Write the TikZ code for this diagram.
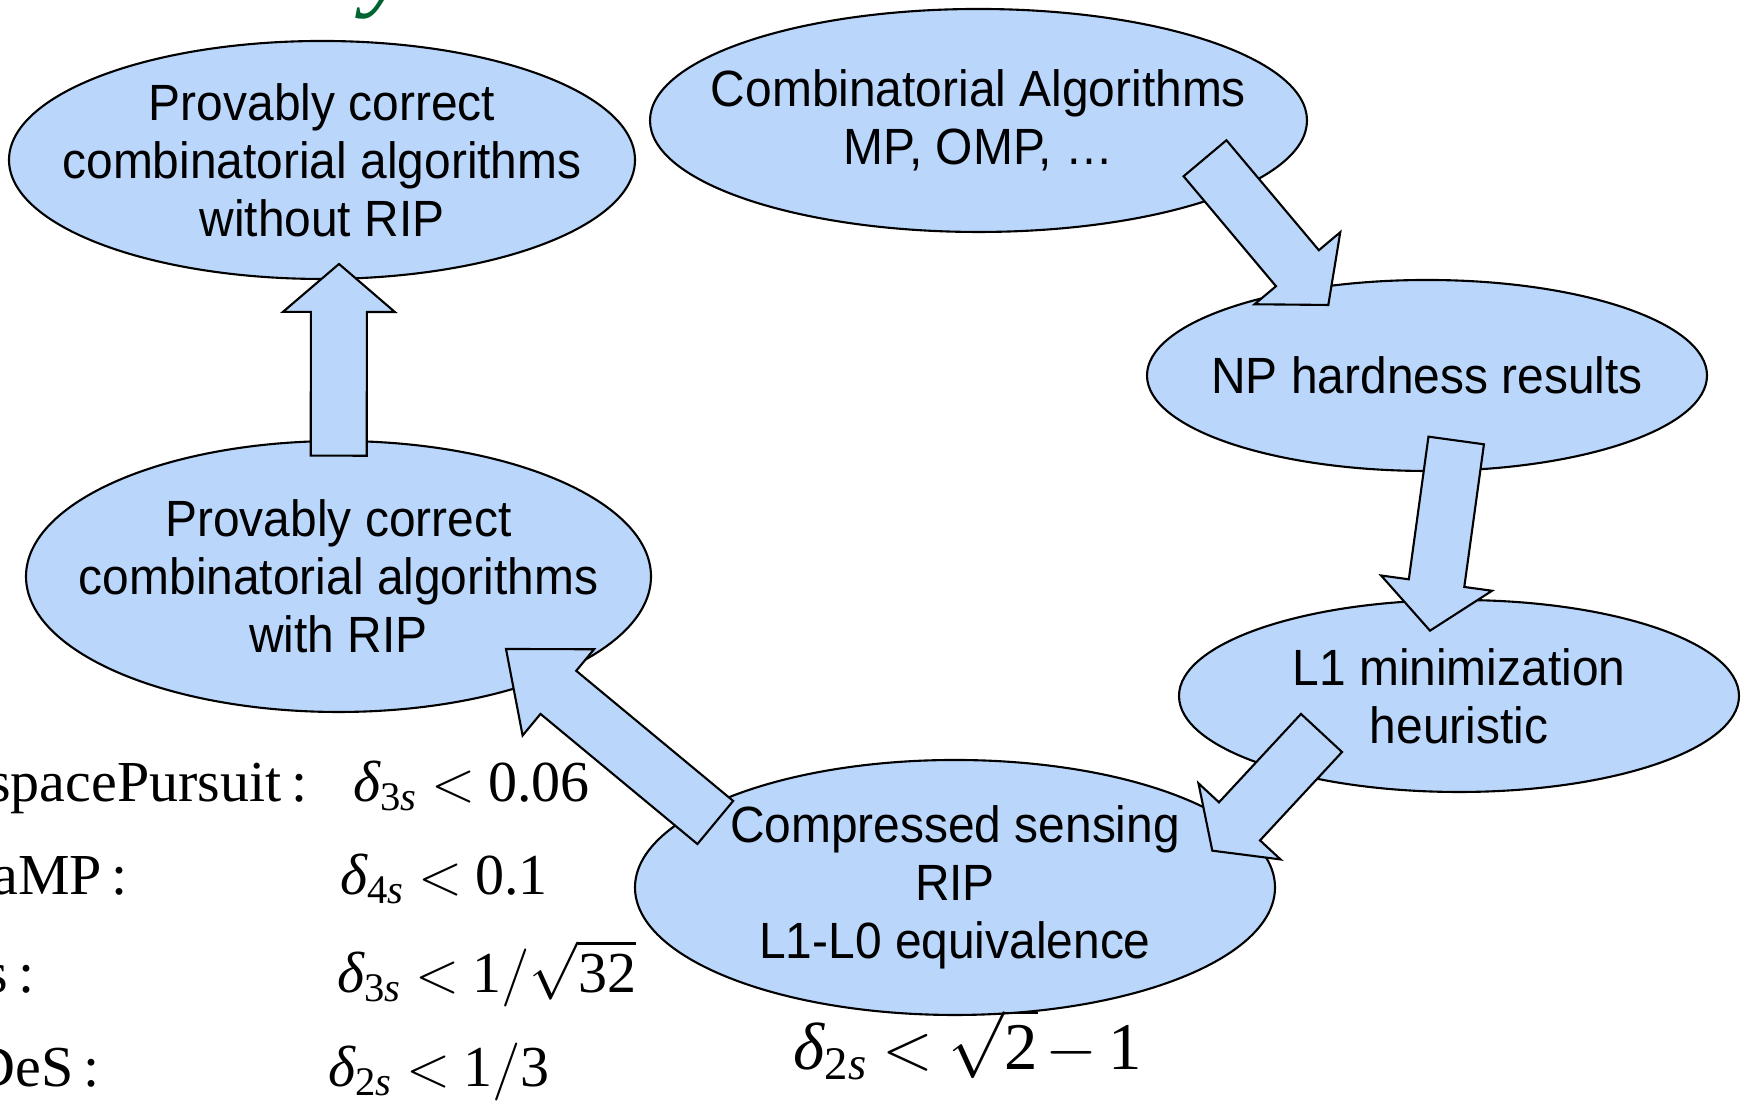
\RequirePackage{fix-cm}
\documentclass[tikz,border=0pt]{standalone}
\usepackage{amsmath}
\usepackage{fontspec}
\setmainfont{Liberation Serif}
\newfontfamily\bubblefont[FakeStretch=0.94]{Liberation Sans}
\usetikzlibrary{shapes.geometric,calc}

\definecolor{bubblefill}{RGB}{186,214,251}
\definecolor{titlegreen}{RGB}{0,100,50}

% delta with a subscript, set in the text font
\newcommand{\dlt}[2]{\text{\itshape δ}_{\text{#1\itshape #2}}}
\newcommand{\tightrel}{\thickmuskip=4mu\relax}

% fat arrow: tail #1, tip #2, head length #3
\newcommand{\blockarrow}[3]{%
  \coordinate (h) at ($(#2)!#3!(#1)$);
  \draw[fatarrow] ($(#1)!0.28cm!90:(#2)$) -- ($(h)!0.28cm!90:(#2)$)
    -- ($(h)!0.56cm!90:(#2)$) -- (#2) -- ($(h)!0.56cm!-90:(#2)$)
    -- ($(h)!0.28cm!-90:(#2)$) -- ($(#1)!0.28cm!-90:(#2)$) -- cycle;
}

\begin{document}
\begin{tikzpicture}[bubble/.style={ellipse, draw, fill=bubblefill, line width=0.6pt, inner sep=0pt},
                    bubbletext/.style={font=\bubblefont\fontsize{14.5}{16.5}\selectfont, align=center},
                    fatarrow/.style={draw, fill=bubblefill, line width=0.6pt},
                    formula/.style={inner sep=0pt, font=\fontsize{16.5}{19}\selectfont\tightrel}]
  \useasboundingbox (0,0) rectangle (17.49,11.04);

  \node[anchor=base, inner sep=0pt, text=titlegreen, font=\fontsize{30}{30}\selectfont\itshape] (title) at (3.88,11.07) {y};

  % the cycle of results
  \node[bubble, minimum width=6.26cm, minimum height=2.38cm,
        label={[bubbletext]center:{Provably correct\\combinatorial algorithms\\without RIP}}] (noRIP) at (3.22,9.44) {};
  \node[bubble, minimum width=6.57cm, minimum height=2.23cm,
        label={[bubbletext]center:{Combinatorial Algorithms\\MP, OMP, \dots}}] (comb) at (9.785,9.835) {};
  \node[bubble, minimum width=5.60cm, minimum height=1.91cm,
        label={[bubbletext]center:{NP hardness results}}] (np) at (14.27,7.285) {};
  \node[bubble, minimum width=5.60cm, minimum height=1.92cm,
        label={[bubbletext]center:{L1 minimization\\heuristic}}] (lone) at (14.59,4.08) {};
  \node[bubble, minimum width=6.40cm, minimum height=2.55cm,
        label={[bubbletext]center:{Compressed sensing\\RIP\\L1-L0 equivalence}}] (cs) at (9.55,2.165) {};
  \node[bubble, minimum width=6.25cm, minimum height=2.71cm,
        label={[bubbletext]center:{Provably correct\\combinatorial algorithms\\with RIP}}] (withRIP) at (3.385,5.275) {};

  \coordinate (fromComb) at (12.05,9.457);   \coordinate (toNP) at (13.283,7.99);
  \coordinate (fromNP) at (14.562,6.635);    \coordinate (toLone) at (14.30,4.733);
  \coordinate (fromLone) at (13.215,3.71);   \coordinate (toCS) at (12.123,2.533);
  \coordinate (fromCS) at (7.153,2.815);     \coordinate (toWith) at (5.06,4.55);
  \coordinate (fromWith) at (3.387,6.483);   \coordinate (toNoRIP) at (3.39,8.40);

  \blockarrow{fromComb}{toNP}{0.48cm}
  \blockarrow{fromNP}{toLone}{0.48cm}
  \blockarrow{fromLone}{toCS}{0.40cm}
  \blockarrow{fromCS}{toWith}{0.68cm}
  \blockarrow{fromWith}{toNoRIP}{0.48cm}

  % RIP constants
  \node[formula, anchor=base east] (spName) at (3.08,3.023) {spacePursuit\,:};
  \node[formula, anchor=base west] (spBound) at (3.53,3.023) {$\dlt{3}{s} < \text{0.06}$};
  \node[formula, anchor=base east] (cosName) at (1.285,2.09) {aMP\,:};
  \node[formula, anchor=base west] (cosBound) at (3.40,2.09) {$\dlt{4}{s} < \text{0.1}$};
  \node[formula, anchor=base east] (sName) at (0.35,1.11) {s\,:};
  \node[formula, anchor=base west] (sBound) at (3.37,1.11) {$\dlt{3}{s} < \text{1}/\sqrt{\text{32}}$};
  \node[formula, anchor=base east] (desName) at (1.00,0.17) {DeS\,:};
  \node[formula, anchor=base west] (desBound) at (3.28,0.17) {$\dlt{2}{s} < \text{1}/\text{3}$};

  \node[formula, anchor=base west, font=\fontsize{19}{22}\selectfont\tightrel] (csBound) at (7.93,0.34)
    {$\dlt{2}{s} < \sqrt{\text{2}}\mkern2mu{-}\mkern3mu\text{1}$};
\end{tikzpicture}
\end{document}
